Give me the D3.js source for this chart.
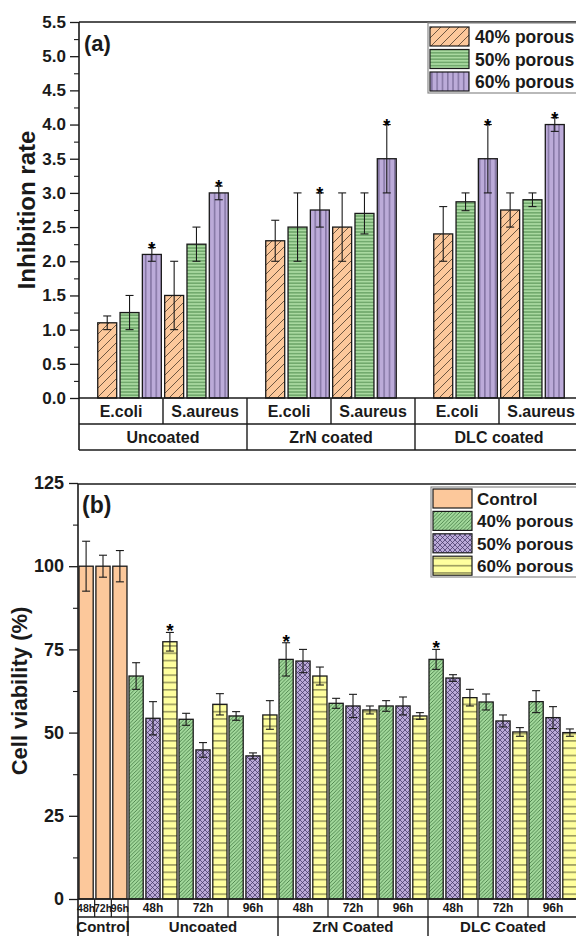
<!DOCTYPE html>
<html>
<head>
<meta charset="utf-8">
<script src="https://cdn.jsdelivr.net/npm/d3@7"></script>
<style>
  body { margin: 0; background: #fff; }
  svg { display: block; font-family: "Liberation Sans", Arial, sans-serif; font-weight: bold; }
</style>
</head>
<body>
<svg id="chart" width="576" height="936"></svg>
<script>
// ---- panel (a) data: order = Uncoated E.coli, Uncoated S.aureus, ZrN E.coli, ZrN S.aureus, DLC E.coli, DLC S.aureus
const coatingsA = ["Uncoated", "ZrN coated", "DLC coated"];
const bacteria = ["E.coli", "S.aureus"];
const seriesA = ["40% porous", "50% porous", "60% porous"];
const meanA40 = [1.1, 1.5, 2.3, 2.5, 2.4, 2.75];
const meanA50 = [1.25, 2.25, 2.5, 2.7, 2.87, 2.9];
const meanA60 = [2.1, 3.0, 2.75, 3.5, 3.5, 4.0];
const errA40 = [0.1, 0.5, 0.3, 0.5, 0.4, 0.25];
const errA50 = [0.25, 0.25, 0.5, 0.3, 0.13, 0.1];
const errA60 = [0.1, 0.1, 0.25, 0.5, 0.5, 0.1];
const starA60 = [1, 1, 1, 1, 1, 1];
const ticksA = [0, 0.5, 1, 1.5, 2, 2.5, 3, 3.5, 4, 4.5, 5, 5.5];

// ---- panel (b) data: order = Uncoated 48/72/96h, ZrN 48/72/96h, DLC 48/72/96h
const coatingsB = ["Uncoated", "ZrN Coated", "DLC Coated"];
const times = ["48h", "72h", "96h"];
const seriesB = ["Control", "40% porous", "50% porous", "60% porous"];
const controlMean = [100, 100, 100];
const controlErr = [7.5, 3.3, 4.7];
const meanB40 = [67, 54, 55, 72, 58.8, 58, 72, 59.2, 59.3];
const meanB50 = [54.3, 44.8, 43, 71.5, 58, 58, 66.4, 53.5, 54.5];
const meanB60 = [77.3, 58.5, 55.3, 67, 56.8, 55, 60.5, 50.2, 50];
const errB40 = [4, 1.8, 1.3, 5, 1.5, 1.6, 3, 2.4, 3.3];
const errB50 = [5, 2.2, 0.9, 3.5, 3.5, 2.7, 1, 1.8, 3.3];
const errB60 = [2.8, 3.2, 4.3, 2.7, 1.2, 1, 2.5, 1.3, 1.1];
const starB40 = [0, 0, 0, 1, 0, 0, 1, 0, 0];
const starB60 = [1, 0, 0, 0, 0, 0, 0, 0, 0];
const ticksB = [0, 25, 50, 75, 100, 125];

const svg = d3.select("#chart");
const defs = svg.append("defs");

// hatch patterns
function pattern(id, fill, size, lines, stroke, sw) {
  const p = defs.append("pattern").attr("id", id)
    .attr("patternUnits", "userSpaceOnUse")
    .attr("width", size).attr("height", size);
  p.append("rect").attr("width", size).attr("height", size).attr("fill", fill);
  lines.forEach(d => p.append("path").attr("d", d)
    .attr("stroke", stroke).attr("stroke-width", sw).attr("fill", "none"));
}
const diag = s => [`M0,${s} L${s},0`, `M${-s/2},${s/2} L${s/2},${-s/2}`, `M${s/2},${s*1.5} L${s*1.5},${s/2}`];
pattern("a40", "#fcc89b", 9, diag(9), "#4a3a2a", 0.8);
pattern("a50", "#a9d9a0", 3.2, ["M0,1.6 H3.2"], "#3b7a3b", 0.8);
pattern("a60", "#bcabd9", 5.3, ["M2.6,0 V5.3"], "#4f4470", 0.8);
pattern("b40", "#a3d99c", 3.6, diag(3.6), "#2f6530", 0.7);
pattern("b50", "#bbaad9", 5, diag(5).concat([`M0,0 L5,5`, `M-2.5,2.5 L2.5,7.5`, `M2.5,-2.5 L7.5,2.5`]), "#3d3160", 0.7);
pattern("b60", "#ffff9e", 7.3, ["M0,3.6 H7.3"], "#4a4a2a", 0.9);

const fillA = ["url(#a40)", "url(#a50)", "url(#a60)"];
const fillB = ["#fcc89b", "url(#b40)", "url(#b50)", "url(#b60)"];

// ================= PANEL (a) =================
const yA = d3.scaleLinear().domain([0, 5.5]).range([398, 22]);
const xA = d3.scaleBand().domain(coatingsA).range([79, 583]);
const inA = d3.scaleBand().domain(d3.range(6)).range([0, xA.bandwidth()])
  .paddingInner(0.15).paddingOuter(0.84);

const barsA = [];
coatingsA.forEach((c, ci) => bacteria.forEach((b, bi) => {
  const i = ci * 2 + bi;
  [[meanA40, errA40], [meanA50, errA50], [meanA60, errA60]].forEach(([m, e], si) => {
    barsA.push({ c, slot: bi * 3 + si, s: si, v: m[i], e: e[i], star: si === 2 && starA60[i] });
  });
}));

const gA = svg.append("g");
gA.selectAll("rect.bar").data(barsA).join("rect")
  .attr("x", d => xA(d.c) + inA(d.slot))
  .attr("y", d => yA(d.v))
  .attr("width", inA.bandwidth())
  .attr("height", d => yA(0) - yA(d.v))
  .attr("fill", d => fillA[d.s])
  .attr("stroke", "#1a1a1a").attr("stroke-width", 1.3);

function errorBars(g, data, xf, y, bw, cap, starSize, starOff) {
  const eb = g.selectAll("g.eb").data(data).join("g").attr("class", "eb")
    .attr("stroke", "#1a1a1a").attr("stroke-width", 1.1);
  eb.append("line").attr("x1", d => xf(d) + bw / 2).attr("x2", d => xf(d) + bw / 2)
    .attr("y1", d => y(d.v - d.e)).attr("y2", d => y(d.v + d.e));
  eb.append("line").attr("x1", d => xf(d) + bw / 2 - cap).attr("x2", d => xf(d) + bw / 2 + cap)
    .attr("y1", d => y(d.v + d.e)).attr("y2", d => y(d.v + d.e));
  eb.append("line").attr("x1", d => xf(d) + bw / 2 - cap).attr("x2", d => xf(d) + bw / 2 + cap)
    .attr("y1", d => y(d.v - d.e)).attr("y2", d => y(d.v - d.e));
  g.selectAll("text.star").data(data.filter(d => d.star)).join("text").attr("class", "star")
    .attr("x", d => xf(d) + bw / 2).attr("y", d => y(d.v + d.e) + starOff)
    .attr("text-anchor", "middle").attr("font-size", starSize)
    .text("*");
}
errorBars(gA, barsA, d => xA(d.c) + inA(d.slot), yA, inA.bandwidth(), 4, 18, 7);

// axis (a)
const axA = svg.append("g").attr("transform", "translate(79,0)")
  .call(d3.axisLeft(yA).tickValues(ticksA).tickFormat(d3.format(".1f")).tickSize(9).tickPadding(4));
axA.selectAll("text").attr("font-size", 17).attr("fill", "#1a1a1a");
axA.select(".domain").remove();
axA.selectAll("line").attr("stroke", "#1a1a1a").attr("stroke-width", 1.3);
svg.append("g").attr("transform", "translate(79,0)")
  .call(d3.axisLeft(yA).tickValues(d3.range(0.25, 5.5, 0.5)).tickFormat("").tickSize(5))
  .call(g => g.select(".domain").remove())
  .selectAll("line").attr("stroke", "#1a1a1a").attr("stroke-width", 1.1);

// frame + table (a)
const ln = (x1, y1, x2, y2, w) => svg.append("line").attr("x1", x1).attr("y1", y1)
  .attr("x2", x2).attr("y2", y2).attr("stroke", "#1a1a1a").attr("stroke-width", w || 1.4);
ln(79, 22, 590, 22, 1.6);
ln(79, 22, 79, 450, 1.6);
ln(79, 398, 590, 398, 1.6);
ln(79, 424, 590, 424);
ln(79, 450, 590, 450);
coatingsA.forEach(c => {
  bacteria.forEach((b, bi) => {
    const x0 = xA(c) + bi * xA.bandwidth() / 2;
    svg.append("text").attr("x", x0 + xA.bandwidth() / 4).attr("y", 417)
      .attr("text-anchor", "middle").attr("font-size", 16).attr("fill", "#1a1a1a").text(b);
    ln(x0 + xA.bandwidth() / 2, 398, x0 + xA.bandwidth() / 2, 424);
  });
  svg.append("text").attr("x", xA(c) + xA.bandwidth() / 2).attr("y", 443)
    .attr("text-anchor", "middle").attr("font-size", 16).attr("fill", "#1a1a1a").text(c);
  ln(xA(c) + xA.bandwidth(), 424, xA(c) + xA.bandwidth(), 450);
});

svg.append("text").attr("transform", "translate(35,210) rotate(-90)")
  .attr("text-anchor", "middle").attr("font-size", 24).attr("fill", "#1a1a1a").text("Inhibition rate");
svg.append("text").attr("x", 84).attr("y", 51).attr("font-size", 22).attr("fill", "#1a1a1a").text("(a)");

// legend (a)
const legA = svg.append("g");
legA.append("rect").attr("x", 428).attr("y", 23).attr("width", 170).attr("height", 70)
  .attr("fill", "#fff").attr("stroke", "#8a8a8a").attr("stroke-width", 1.2);
seriesA.forEach((s, i) => {
  const yy = 27 + i * 22.5;
  legA.append("rect").attr("x", 430).attr("y", yy).attr("width", 39).attr("height", 19)
    .attr("fill", fillA[i]).attr("stroke", "#1a1a1a").attr("stroke-width", 1.2);
  legA.append("text").attr("x", 475).attr("y", yy + 16).attr("font-size", 17.5)
    .attr("fill", "#1a1a1a").text(s);
});

// ================= PANEL (b) =================
const slots = ["Control"].concat(...coatingsB.map(c => times.map(t => c + "|" + t)));
const yB = d3.scaleLinear().domain([0, 125]).range([899, 483]);
const xB = d3.scaleBand().domain(slots).range([78, 578]);
const inB = d3.scaleBand().domain([0, 1, 2]).range([0, xB.bandwidth()])
  .paddingInner(0.16).paddingOuter(0.06);

const barsB = controlMean.map((v, i) => ({ slot: "Control", k: i, s: 0, v, e: controlErr[i], star: 0 }));
coatingsB.forEach((c, ci) => times.forEach((t, ti) => {
  const i = ci * 3 + ti;
  [[meanB40, errB40, starB40], [meanB50, errB50, null], [meanB60, errB60, starB60]].forEach(([m, e, st], si) => {
    barsB.push({ slot: c + "|" + t, k: si, s: si + 1, v: m[i], e: e[i], star: st ? st[i] : 0 });
  });
}));

const gB = svg.append("g");
gB.selectAll("rect.bar").data(barsB).join("rect")
  .attr("x", d => xB(d.slot) + inB(d.k))
  .attr("y", d => yB(d.v))
  .attr("width", inB.bandwidth())
  .attr("height", d => yB(0) - yB(d.v))
  .attr("fill", d => fillB[d.s])
  .attr("stroke", "#1a1a1a").attr("stroke-width", 1.3);
errorBars(gB, barsB, d => xB(d.slot) + inB(d.k), yB, inB.bandwidth(), 4, 19, 5);

const axB = svg.append("g").attr("transform", "translate(78,0)")
  .call(d3.axisLeft(yB).tickValues(ticksB).tickSize(9).tickPadding(5));
axB.select(".domain").remove();
axB.selectAll("text").attr("font-size", 18).attr("fill", "#1a1a1a");
axB.selectAll("line").attr("stroke", "#1a1a1a").attr("stroke-width", 1.3);
svg.append("g").attr("transform", "translate(78,0)")
  .call(d3.axisLeft(yB).tickValues(d3.range(12.5, 125, 25)).tickFormat("").tickSize(5))
  .call(g => g.select(".domain").remove())
  .selectAll("line").attr("stroke", "#1a1a1a").attr("stroke-width", 1.1);

// table (b)
const tB = svg.append("g");
times.forEach((t, i) => {
  tB.append("text").attr("x", xB("Control") + inB(i) + inB.bandwidth() / 2).attr("y", 912)
    .attr("text-anchor", "middle").attr("font-size", 10.5).attr("fill", "#1a1a1a").text(t);
});
slots.slice(1).forEach(s => {
  tB.append("text").attr("x", xB(s) + xB.bandwidth() / 2).attr("y", 912)
    .attr("text-anchor", "middle").attr("font-size", 12).attr("fill", "#1a1a1a").text(s.split("|")[1]);
});
tB.append("text").attr("x", xB("Control") + xB.bandwidth() / 2).attr("y", 932)
  .attr("text-anchor", "middle").attr("font-size", 15).attr("fill", "#1a1a1a").text("Control");
coatingsB.forEach(c => {
  tB.append("text").attr("x", xB(c + "|48h") + xB.bandwidth() * 1.5).attr("y", 932)
    .attr("text-anchor", "middle").attr("font-size", 15).attr("fill", "#1a1a1a").text(c);
});
ln(78, 484, 590, 484, 1.6);
ln(78, 484, 78, 940, 1.6);
ln(78, 899, 590, 899, 1.6);
ln(78, 917, 590, 917);
[1, 2].forEach(i => ln(xB("Control") + i * xB.bandwidth() / 3, 899, xB("Control") + i * xB.bandwidth() / 3, 917, 1.2));
slots.forEach(s => ln(xB(s) + xB.bandwidth(), 899, xB(s) + xB.bandwidth(), 917, 1.2));
ln(xB("Control") + xB.bandwidth(), 917, xB("Control") + xB.bandwidth(), 940);
coatingsB.forEach(c => {
  const xe = xB(c + "|96h") + xB.bandwidth();
  ln(xe, 917, xe, 940);
});

svg.append("text").attr("transform", "translate(27,691) rotate(-90)")
  .attr("text-anchor", "middle").attr("font-size", 22).attr("fill", "#1a1a1a").text("Cell viability (%)");
svg.append("text").attr("x", 82).attr("y", 513).attr("font-size", 23).attr("fill", "#1a1a1a").text("(b)");

// legend (b)
const legB = svg.append("g");
legB.append("rect").attr("x", 431).attr("y", 487).attr("width", 170).attr("height", 90)
  .attr("fill", "#fff").attr("stroke", "#8a8a8a").attr("stroke-width", 1.2);
seriesB.forEach((s, i) => {
  const yy = 489 + i * 22.4;
  legB.append("rect").attr("x", 433).attr("y", yy).attr("width", 39).attr("height", 19)
    .attr("fill", fillB[i]).attr("stroke", "#1a1a1a").attr("stroke-width", 1.2);
  legB.append("text").attr("x", 477).attr("y", yy + 16).attr("font-size", 17)
    .attr("fill", "#1a1a1a").text(s);
});
</script>
</body>
</html>
